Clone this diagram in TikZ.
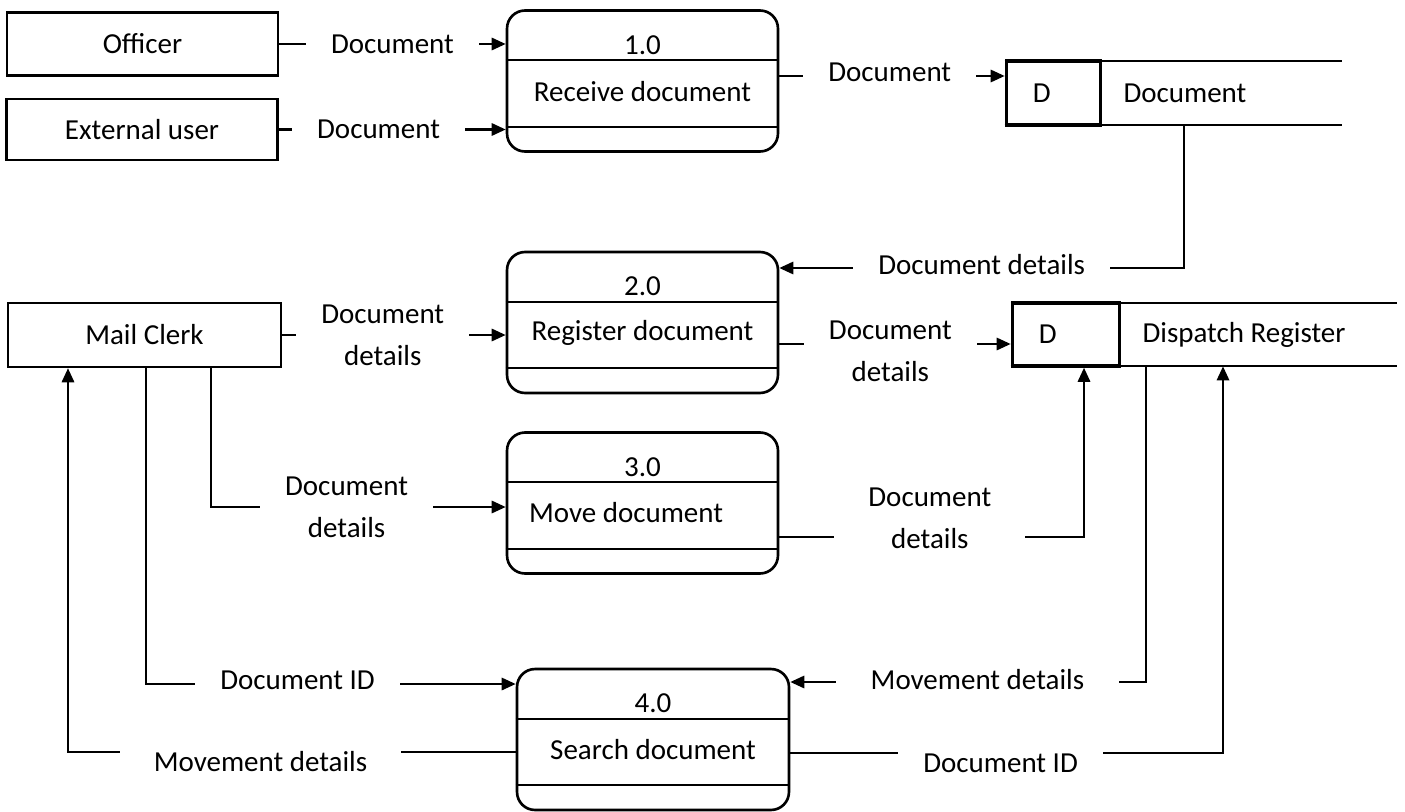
\documentclass[tikz,border=0pt]{standalone}
\usepackage{fontspec}
\setmainfont{Carlito}
\usepackage{tikz}
\usetikzlibrary{positioning,calc,arrows.meta}

\begin{document}
\begin{tikzpicture}[x=0.02cm, y=-0.02cm]
	\tikzset{
		every node/.append style={font=\fontsize{16.5}{23.8}\selectfont},
		ent/.style={rectangle, draw=black, line width=1.4pt, minimum width=5.42cm,
			minimum height=1.26cm, inner sep=0pt},
		proc/.style={rectangle, rounded corners=0.36cm, draw=black, line width=1.5pt,
			minimum width=5.42cm, minimum height=2.82cm, inner sep=0pt},
		store/.style={rectangle, inner sep=0pt},
		dbox/.style={rectangle, draw=black, line width=2pt, inner sep=0pt, anchor=west},
		e/.style={draw=black, line width=1.3pt},
		arr/.style={e, -{Triangle[length=8pt, width=7pt]}},
		lbl/.style={fill=white, inner xsep=0.5cm, inner ysep=4pt, align=center},
		txt/.style={inner sep=0pt}
	}
	\useasboundingbox (0,0) rectangle (1405,811);
	
	\node[ent] (officer) at (142.5,44) {Officer};
	\node[ent, minimum height=1.22cm] (extuser) at (142,129.5) {External user};
	\node[ent, minimum width=5.46cm, minimum height=1.28cm] (clerk) at (144.5,335) {Mail Clerk};
	
	\node[proc] (p1) at (642.5,81) {};
	\node[proc] (p2) at (642.5,322.5) {};
	\node[proc] (p3) at (642.5,503) {};
	\node[proc, minimum width=5.44cm] (p4) at (653,739.5) {};
	
	\draw[e] ([yshift=-1.02cm]p1.north west) -- ([yshift=-1.02cm]p1.north east);
	\draw[e] ([yshift=0.52cm]p1.south west) -- ([yshift=0.52cm]p1.south east);
	\draw[e] ([yshift=-1.02cm]p2.north west) -- ([yshift=-1.02cm]p2.north east);
	\draw[e] ([yshift=0.52cm]p2.south west) -- ([yshift=0.52cm]p2.south east);
	\draw[e] ([yshift=-1.02cm]p3.north west) -- ([yshift=-1.02cm]p3.north east);
	\draw[e] ([yshift=0.52cm]p3.south west) -- ([yshift=0.52cm]p3.south east);
	\draw[e] ([yshift=-1.02cm]p4.north west) -- ([yshift=-1.02cm]p4.north east);
	\draw[e] ([yshift=0.52cm]p4.south west) -- ([yshift=0.52cm]p4.south east);
	
	\node[txt] (p1num) at ([yshift=-0.72cm]p1.north) {1.0};
	\node[txt] (p1name) at ([yshift=-1.64cm]p1.north) {Receive document};
	\node[txt] (p2num) at ([yshift=-0.72cm]p2.north) {2.0};
	\node[txt] (p2name) at ([yshift=-1.64cm]p2.north) {Register document};
	\node[txt] (p3num) at ([yshift=-0.72cm]p3.north) {3.0};
	\node[txt, anchor=west] (p3name) at ([xshift=0.46cm, yshift=-1.62cm]p3.north west) {Move document};
	\node[txt] (p4num) at ([yshift=-0.72cm]p4.north) {4.0};
	\node[txt] (p4name) at ([yshift=-1.64cm]p4.north) {Search document};
	
	\node[store, minimum width=6.74cm, minimum height=1.28cm] (d1) at (1173.5,93) {};
	\draw[e] (d1.north west) -- (d1.north east) (d1.south west) -- (d1.south east);
	\node[dbox, minimum width=1.88cm, minimum height=1.28cm] (d1box) at (d1.west) {};
	\node[txt] (d1id) at ([xshift=0.74cm]d1.west) {D};
	\node[txt, anchor=west] (d1name) at ([xshift=0.42cm]d1box.east) {Document};
	
	\node[store, minimum width=7.72cm, minimum height=1.26cm] (d2) at (1204,334.5) {};
	\draw[e] (d2.north west) -- (d2.north east) (d2.south west) -- (d2.south east);
	\node[dbox, minimum width=2.14cm, minimum height=1.26cm] (d2box) at (d2.west) {};
	\node[txt] (d2id) at ([xshift=0.74cm]d2.west) {D};
	\node[txt, anchor=west] (d2name) at ([xshift=0.42cm]d2box.east) {Dispatch Register};
	
	\draw[arr] (officer.east) -- node[lbl]{Document} (p1.west |- officer.east);
	\draw[arr] (extuser.east) -- node[lbl, pos=0.44]{Document} (p1.west |- extuser.east);
	\draw[arr] (p1.east |- 0,76) -- node[lbl, pos=0.49, yshift=0.08cm]{Document} (d1box.west |- 0,76);
	\draw[arr] (d1.south -| 1184,0) |- node[lbl, pos=0.75, yshift=0.06cm]{Document details} (p2.east |- 0,268);
	\draw[arr] (clerk.east) -- node[lbl, pos=0.45]{Document\\details} (p2.west |- clerk.east);
	\draw[arr] (p2.east |- 0,344) -- node[lbl, pos=0.48, yshift=-0.14cm]{Document\\details} (d2box.west |- 0,344);
	\draw[arr] (clerk.south -| 211,0) |- node[lbl, pos=0.73]{Document\\details} (p3.west |- 0,507);
	\draw[arr] (p3.east |- 0,537) -| node[lbl, pos=0.247, yshift=0.38cm, inner xsep=0.68cm]{Document\\details} (d2box.south -| 1084,0);
	\draw[arr] (clerk.south -| 146,0) |- node[lbl, pos=0.705, yshift=0.08cm]{Document ID} (p4.west |- 0,684);
	\draw[arr] (p4.west |- 0,752) -| node[lbl, pos=0.285, yshift=-0.2cm, inner xsep=0.68cm]{Movement details} (clerk.south -| 68,0);
	\draw[arr] (d2.south -| 1146,0) |- node[lbl, pos=0.737, yshift=0.04cm, inner xsep=0.7cm]{Movement details} (p4.east |- 0,682);
	\draw[arr] (p4.east |- 0,753) -| node[lbl, pos=0.243, yshift=-0.2cm]{Document ID} (d2.south -| 1223,0);
\end{tikzpicture}
\end{document}
